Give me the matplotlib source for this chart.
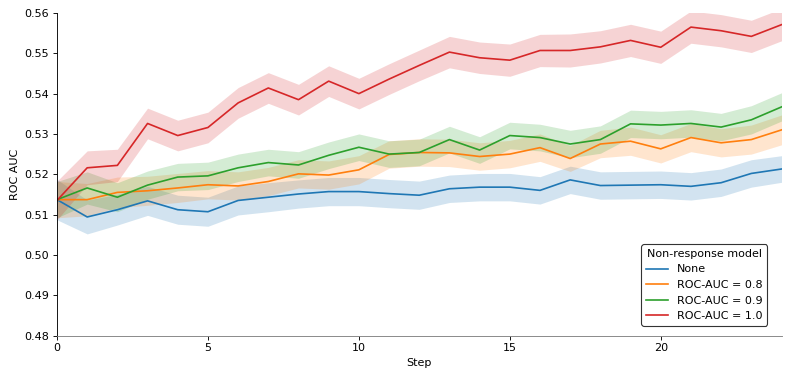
import numpy as np
import matplotlib
matplotlib.use("Agg")
import matplotlib.pyplot as plt

steps = list(range(25))

labels = ["None", "ROC-AUC = 0.8", "ROC-AUC = 0.9", "ROC-AUC = 1.0"]
colors = ["#1f77b4", "#ff7f0e", "#2ca02c", "#d62728"]

mean_none = [0.5137, 0.5094, 0.5112, 0.5134, 0.5112, 0.5107, 0.5135, 0.5143, 0.5151,
             0.5157, 0.5157, 0.5152, 0.5148, 0.5164, 0.5168, 0.5168, 0.5160, 0.5186,
             0.5172, 0.5173, 0.5174, 0.5170, 0.5179, 0.5202, 0.5213]
mean_08 = [0.5137, 0.5137, 0.5155, 0.5159, 0.5166, 0.5174, 0.5171, 0.5182, 0.5201,
           0.5198, 0.5211, 0.5249, 0.5254, 0.5253, 0.5244, 0.5250, 0.5266, 0.5239,
           0.5275, 0.5282, 0.5263, 0.5291, 0.5278, 0.5286, 0.5310]
mean_09 = [0.5137, 0.5166, 0.5143, 0.5173, 0.5193, 0.5196, 0.5216, 0.5229, 0.5223,
           0.5247, 0.5267, 0.5250, 0.5254, 0.5286, 0.5260, 0.5296, 0.5291, 0.5275,
           0.5286, 0.5325, 0.5322, 0.5326, 0.5317, 0.5335, 0.5367]
mean_10 = [0.5135, 0.5216, 0.5222, 0.5326, 0.5296, 0.5316, 0.5377, 0.5414, 0.5385,
           0.5431, 0.5400, 0.5436, 0.5470, 0.5503, 0.5489, 0.5483, 0.5507, 0.5507,
           0.5516, 0.5532, 0.5515, 0.5565, 0.5556, 0.5542, 0.5571]

ci_none = [0.0050, 0.0042, 0.0038, 0.0036, 0.0036, 0.0036, 0.0036, 0.0036, 0.0035,
           0.0035, 0.0035, 0.0035, 0.0035, 0.0034, 0.0034, 0.0034, 0.0034, 0.0034,
           0.0034, 0.0034, 0.0034, 0.0034, 0.0034, 0.0034, 0.0033]
ci_08 = [0.0045, 0.0040, 0.0038, 0.0036, 0.0036, 0.0035, 0.0035, 0.0035, 0.0035,
         0.0035, 0.0035, 0.0034, 0.0034, 0.0034, 0.0034, 0.0034, 0.0034, 0.0032,
         0.0034, 0.0035, 0.0035, 0.0035, 0.0035, 0.0036, 0.0037]
ci_09 = [0.0045, 0.0040, 0.0036, 0.0035, 0.0034, 0.0034, 0.0034, 0.0033, 0.0033,
         0.0033, 0.0033, 0.0033, 0.0033, 0.0033, 0.0033, 0.0033, 0.0033, 0.0034,
         0.0034, 0.0034, 0.0034, 0.0034, 0.0034, 0.0035, 0.0035]
ci_10 = [0.0048, 0.0042, 0.0040, 0.0038, 0.0038, 0.0038, 0.0038, 0.0038, 0.0038,
         0.0038, 0.0038, 0.0038, 0.0038, 0.0039, 0.0039, 0.0040, 0.0040, 0.0041,
         0.0040, 0.0040, 0.0040, 0.0040, 0.0040, 0.0040, 0.0040]

means = [mean_none, mean_08, mean_09, mean_10]
cis = [ci_none, ci_08, ci_09, ci_10]

plt.rcParams['font.family'] = ['DejaVu Sans']
plt.rcParams['font.size'] = 10

DPI = 80
fig = plt.figure(figsize=(789 / DPI, 379 / DPI), dpi=DPI)
ax = fig.add_axes([57 / 789, 1 - 335.5 / 379, 724.5 / 789, 322.5 / 379])

x = np.array(steps)
for m, c, col, lab in zip(means, cis, colors, labels):
    m = np.array(m)
    c = np.array(c)
    ax.fill_between(x, m - c, m + c, color=col, alpha=0.2, linewidth=0)
    ax.plot(x, m, color=col, linewidth=1.5, label=lab)

ax.set_xlim(0, 24)
ax.set_ylim(0.48, 0.56)
ax.set_xticks([0, 5, 10, 15, 20])
ax.set_yticks(np.arange(0.48, 0.5601, 0.01))
ax.yaxis.set_major_formatter(matplotlib.ticker.FormatStrFormatter('%.2f'))
ax.set_xlabel("Step")
ax.set_ylabel("ROC AUC")
ax.spines['top'].set_visible(False)
ax.spines['right'].set_visible(False)
ax.spines['bottom'].set_color('#808080')

leg = ax.legend(title="Non-response model", loc='lower right',
                bbox_to_anchor=(0.980, 0.031), borderaxespad=0,
                framealpha=1, edgecolor='#333333', fancybox=True)

fig.savefig("out.png", dpi=DPI)
